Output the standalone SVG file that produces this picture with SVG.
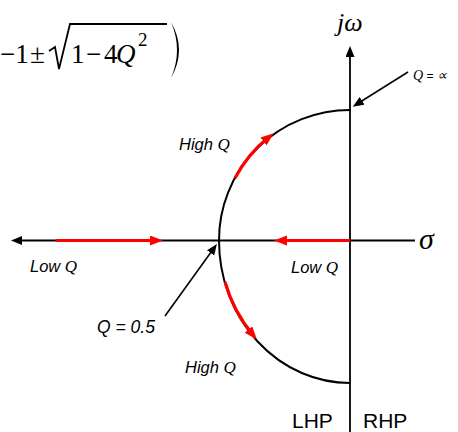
<svg xmlns="http://www.w3.org/2000/svg" width="458" height="432" viewBox="0 0 458 432">
<style>
.ax{stroke:#000;stroke-width:1.8;fill:none}
.cv{stroke:#000;stroke-width:2;fill:none}
.rd{stroke:#ff0000;stroke-width:3.2;fill:none}
.ld{stroke:#000;stroke-width:1.6;fill:none}
.sans{font-family:"Liberation Sans",Arial,sans-serif;font-style:italic;fill:#000}
.serif{font-family:"Liberation Serif","Times New Roman",serif;fill:#000}
.ser-i{font-family:"Liberation Serif","Times New Roman",serif;font-style:italic;fill:#000}
.up{font-family:"Liberation Sans",Arial,sans-serif;fill:#000}
</style>
<defs>
<marker id="ab" markerUnits="userSpaceOnUse" markerWidth="12" markerHeight="10" refX="6" refY="4.5" orient="auto">
<path d="M0,0 L11,4.5 L0,9 z" fill="#000"/>
</marker>
<marker id="ar" markerUnits="userSpaceOnUse" markerWidth="14" markerHeight="12" refX="7" refY="5" orient="auto">
<path d="M0,0 L13,5 L0,10 z" fill="#ff0000"/>
</marker>
</defs>
<g id="formula">
<text class="serif" font-size="27" x="0" y="63">−1</text>
<text class="serif" font-size="27" x="30" y="63">±</text>
<path d="M49,51 L55,47 L59,69 L70,24 L167,24" stroke="#000" stroke-width="1.8" fill="none"/>
<text class="serif" font-size="27" x="71" y="63">1</text>
<text class="serif" font-size="27" x="86" y="63">−</text>
<text class="serif" font-size="27" x="104" y="63">4</text>
<text class="ser-i" font-size="27" x="116" y="63">Q</text>
<text class="serif" font-size="19" x="138" y="46">2</text>
<path d="M171,22 Q187,50 171,78 Q183,50 171,22 z" fill="#000"/>
</g>
<g id="connectors">
<line class="ax" x1="20" y1="240.5" x2="415" y2="240.5"/>
<line class="ax" x1="18" y1="240.5" x2="16" y2="240.5" marker-end="url(#ab)"/>
<line class="ax" x1="350" y1="432" x2="350" y2="51" marker-end="url(#ab)"/>
<path class="cv" d="M350,110 A131,130 0 0 0 219,240.5 A131,142.5 0 0 0 350,383"/>
<line class="rd" x1="56" y1="240.5" x2="157" y2="240.5" marker-end="url(#ar)"/>
<line class="rd" x1="350" y1="240.5" x2="280" y2="240.5" marker-end="url(#ar)"/>
<path class="rd" d="M235,178 A131,131 0 0 1 269,137" marker-end="url(#ar)"/>
<path class="rd" d="M225,282 A131,142 0 0 0 253,335" marker-end="url(#ar)"/>
<line class="ld" x1="408" y1="72" x2="357" y2="104" marker-end="url(#ab)"/>
<line class="ld" x1="165" y1="316" x2="214" y2="248" marker-end="url(#ab)"/>
</g>
<g id="labels">
<text class="ser-i" font-size="26" x="337" y="31">jω</text>
<text class="ser-i" font-size="30" x="419" y="249">σ</text>
<text x="413" y="80"><tspan class="ser-i" font-size="14">Q</tspan><tspan class="up" font-size="12"> = </tspan><tspan class="ser-i" font-size="14">∝</tspan></text>
<text x="179" y="150"><tspan class="sans" font-size="16.5">High </tspan><tspan class="ser-i" font-size="17">Q</tspan></text>
<text x="185" y="373"><tspan class="sans" font-size="16.5">High </tspan><tspan class="ser-i" font-size="17">Q</tspan></text>
<text x="30" y="272"><tspan class="sans" font-size="16.5">Low </tspan><tspan class="ser-i" font-size="17">Q</tspan></text>
<text x="291" y="273"><tspan class="sans" font-size="16.5">Low </tspan><tspan class="ser-i" font-size="17">Q</tspan></text>
<text class="sans" font-size="17.5" x="97" y="333">Q = 0.5</text>
<text class="up" font-size="21" x="292" y="428">LHP</text>
<text class="up" font-size="21" x="363" y="428">RHP</text>
</g>
</svg>
